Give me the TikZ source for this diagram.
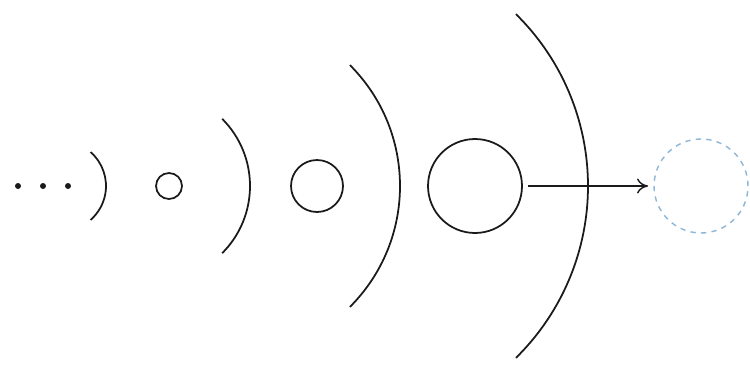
\documentclass[tikz,border=0pt]{standalone}
\usepackage{tikz}
\usetikzlibrary{arrows.meta,positioning}
\definecolor{Ink}{HTML}{1A1A1A}
\definecolor{Ghost}{HTML}{8DB6D6}
\tikzset{
  pulse/.style={circle,draw=Ink,line width=1pt,inner sep=0pt},
  ghost/.style={circle,draw=Ghost,dashed,line width=0.8pt,inner sep=0pt},
  dot/.style={circle,fill=Ink,inner sep=0pt,minimum size=0.12cm},
  front/.style={draw=Ink,line width=1pt},
  arrow/.style={-{To[length=2.2mm,width=3mm]},line width=0.8pt,draw=Ink,shorten <=3pt,shorten >=3pt}
}
\begin{document}
\begin{tikzpicture}[x=0.02cm,y=0.02cm]
  \useasboundingbox (0,-180) rectangle (750,186);
  % leading dots
  \node[dot] (d1) at (18,0) {};
  \node[dot] (d2) at (43,0) {};
  \node[dot] (d3) at (68,0) {};
  % growing circles
  \node[pulse,minimum size=0.52cm] (wave1) at (169,0) {};
  \node[pulse,minimum size=1.04cm] (wave2) at (317,0) {};
  \node[pulse,minimum size=1.88cm] (wave3) at (475,0) {};
  \node[ghost,minimum size=1.88cm] (echo) at (701,0) {};
  % wave fronts: centre x / radius / half angle
  \foreach \cx/\r/\a in {61/45/49, 155/95/45, 229/171/45, 347/241/45.5}
    \draw[front] ([shift={(\a:\r)}]\cx,0) arc[start angle=\a,end angle=-\a,radius=\r];
  \draw[arrow] (wave3)--(echo);
\end{tikzpicture}
\end{document}
